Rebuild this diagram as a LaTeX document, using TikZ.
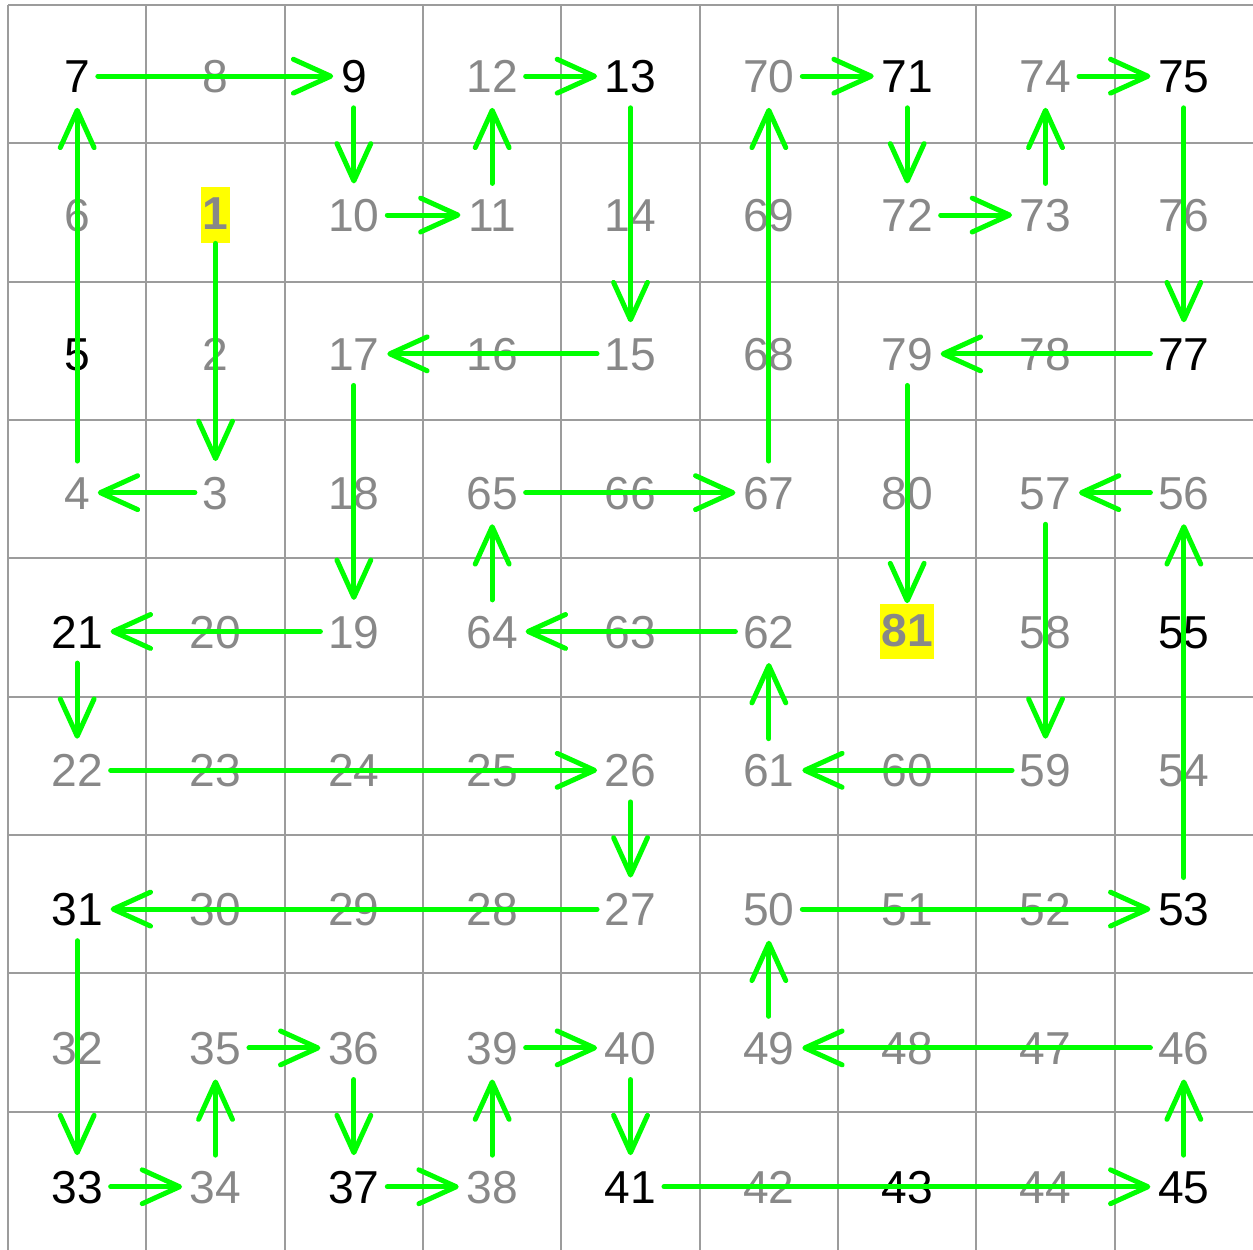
\documentclass[tikz,border=0pt]{standalone}
\usepackage{fontspec}
\setmainfont{Liberation Sans}
\usetikzlibrary{arrows.meta}
\definecolor{GridGray}{HTML}{9C9C9C}
\definecolor{NumGray}{HTML}{888888}
\definecolor{HopGreen}{HTML}{00FF00}
\definecolor{MarkYellow}{HTML}{FFFF00}
\tikzset{
  gridline/.style={draw=GridGray, line width=0.8pt},
  numbase/.style={font=\fontsize{19}{23}\selectfont, text height=13.6pt, text depth=0pt, inner xsep=3pt, inner ysep=6pt},
  numdark/.style={numbase, text=black},
  numgray/.style={numbase, text=NumGray},
  numgoal/.style={numbase, text=NumGray, font=\fontsize{19}{23}\selectfont\bfseries, fill=MarkYellow, inner xsep=0.6pt, inner ysep=4pt, text depth=1.3pt},
  pathhop/.style={-{Straight Barb[length=5.4mm,width=4.9mm,round]}, line width=2.05pt, draw=HopGreen, line cap=round},
}
\begin{document}
\begin{tikzpicture}[x=2cm,y=2cm]
\useasboundingbox (-0.058,0) rectangle (9,9.036);
\fill[white] (-0.058,0) rectangle (9,9.036);

% grid
\foreach \k in {0,...,8} \draw[gridline] (\k,0) -- (\k,9);
\foreach \k in {1,...,9} \draw[gridline] (0,\k) -- (9,\k);

% cells, row by row from the top
\foreach \v/\s [count=\i from 0] in {
  7/numdark, 8/numgray, 9/numdark, 12/numgray, 13/numdark, 70/numgray, 71/numdark, 74/numgray, 75/numdark,
  6/numgray, 1/numgoal, 10/numgray, 11/numgray, 14/numgray, 69/numgray, 72/numgray, 73/numgray, 76/numgray,
  5/numdark, 2/numgray, 17/numgray, 16/numgray, 15/numgray, 68/numgray, 79/numgray, 78/numgray, 77/numdark,
  4/numgray, 3/numgray, 18/numgray, 65/numgray, 66/numgray, 67/numgray, 80/numgray, 57/numgray, 56/numgray,
  21/numdark, 20/numgray, 19/numgray, 64/numgray, 63/numgray, 62/numgray, 81/numgoal, 58/numgray, 55/numdark,
  22/numgray, 23/numgray, 24/numgray, 25/numgray, 26/numgray, 61/numgray, 60/numgray, 59/numgray, 54/numgray,
  31/numdark, 30/numgray, 29/numgray, 28/numgray, 27/numgray, 50/numgray, 51/numgray, 52/numgray, 53/numdark,
  32/numgray, 35/numgray, 36/numgray, 39/numgray, 40/numgray, 49/numgray, 48/numgray, 47/numgray, 46/numgray,
  33/numdark, 34/numgray, 37/numdark, 38/numgray, 41/numdark, 42/numgray, 43/numdark, 44/numgray, 45/numdark}
{
  \pgfmathsetmacro\cx{mod(\i,9)+0.5}
  \pgfmathsetmacro\cy{8.485-1.0035*int(\i/9)}
  \node[\s] (n\v) at (\cx,\cy) {\v};
}

% path from 1 to 81
\foreach \a/\b in {1/3, 3/4, 4/7, 7/9, 9/10, 10/11, 11/12, 12/13, 13/15, 15/17,
  17/19, 19/21, 21/22, 22/26, 26/27, 27/31, 31/33, 33/34, 34/35, 35/36,
  36/37, 37/38, 38/39, 39/40, 40/41, 41/45, 45/46, 46/49, 49/50, 50/53,
  53/56, 56/57, 57/59, 59/61, 61/62, 62/64, 64/65, 65/67, 67/70, 70/71,
  71/72, 72/73, 73/74, 74/75, 75/77, 77/79, 79/81}
  \draw[pathhop] (n\a) -- (n\b);
\end{tikzpicture}
\end{document}
